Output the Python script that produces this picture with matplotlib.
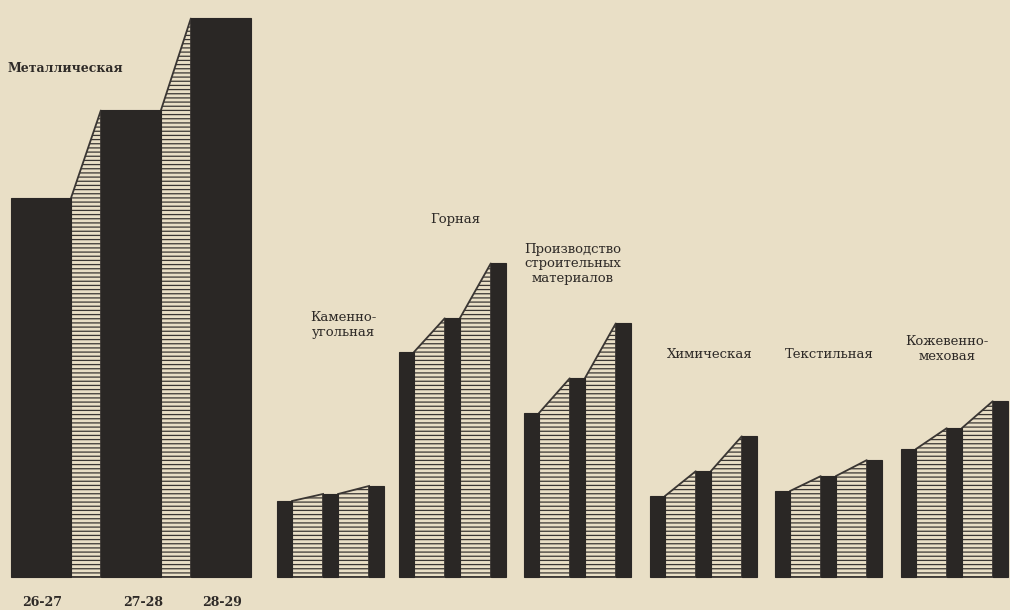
import matplotlib
matplotlib.use("Agg")
import matplotlib.pyplot as plt

# отрасли и значения за три года (высота столбцов, усл. единицы)
groups = ["Металлическая", "Каменно-\nугольная", "Горная",
          "Производство\nстроительных\nматериалов", "Химическая",
          "Текстильная", "Кожевенно-\nмеховая"]
years = ["26-27", "27-28", "28-29"]
values = [
    [379, 467, 559],
    [76, 83, 91],
    [225, 259, 314],
    [164, 199, 254],
    [81, 106, 141],
    [86, 101, 117],
    [128, 149, 176],
]

# раскладка (в пикселях)
group_left = [11, 277, 399, 524, 650, 775, 901]
bar_w = [60, 15, 15, 15, 15, 15, 15]
gap_w = [30, 31, 31, 31, 31, 31, 31]
label_pos = [(8, 508, "left"), (343, 252, "center"), (455, 357, "center"),
             (573, 313, "center"), (710, 222, "center"), (829, 222, "center"),
             (947, 228, "center")]
year_x = [42, 143, 222]

BG = "#e9dfc6"
DARK = "#2a2725"

plt.rcParams['hatch.linewidth'] = 0.9

fig = plt.figure(figsize=(10.1, 6.1), dpi=100)
fig.patch.set_facecolor(BG)
ax = fig.add_axes([0, 0, 1, 1])
ax.set_facecolor(BG)
ax.set_xlim(0, 1010)
ax.set_ylim(-33, 577)
ax.axis("off")

for g, vals in enumerate(values):
    x = group_left[g]
    w = bar_w[g]
    lefts = []
    for i, v in enumerate(vals):
        lefts.append(x)
        ax.bar(x, v, width=w, align="edge", color=DARK, edgecolor=DARK,
               linewidth=0.8, zorder=3)
        x += w + gap_w[g]
    # заштрихованные переходы между столбцами
    for i in range(len(vals) - 1):
        x0 = lefts[i] + w
        x1 = lefts[i + 1]
        ax.fill([x0, x0, x1, x1], [0, vals[i], vals[i + 1], 0],
                facecolor=BG, edgecolor="#3a3633", hatch="----", linewidth=1.3,
                zorder=2)

    lx, ly, ha = label_pos[g]
    ax.text(lx, ly, groups[g], ha=ha, va="center",
            fontsize=9 if g == 0 else 9.5,
            family="DejaVu Serif", color="#2e2a27", linespacing=1.15,
            fontweight="bold" if g == 0 else "normal")

# подписи лет под первой группой
for i, yr in enumerate(years):
    ax.text(year_x[i], -25, yr, ha="center", va="center",
            fontsize=9, family="DejaVu Serif", fontweight="bold",
            color="#2e2a27")

fig.savefig("out.png", dpi=100, facecolor=BG)
